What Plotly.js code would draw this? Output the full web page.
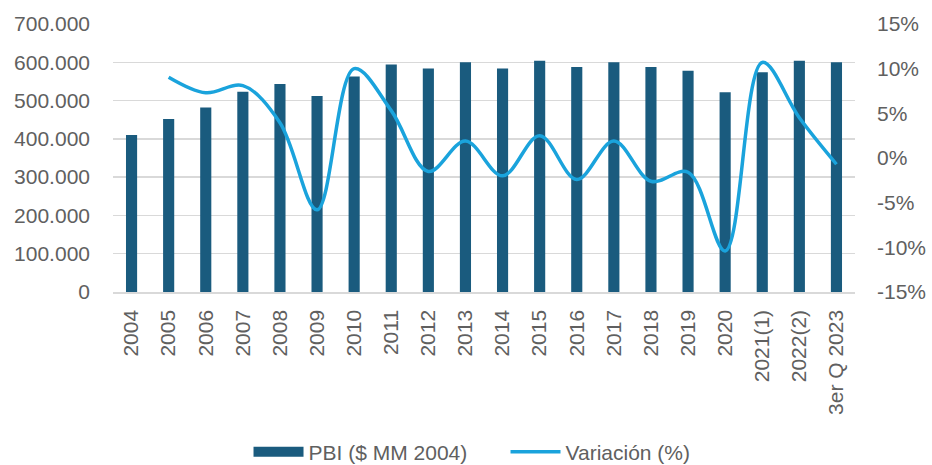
<!DOCTYPE html>
<html>
<head>
<meta charset="utf-8">
<script src="https://cdn.plot.ly/plotly-3.0.1.min.js"></script>
<style>
html,body{margin:0;padding:0;background:#fff;}
#chart{width:932px;height:465px;}
</style>
</head>
<body>
<div id="chart"></div>
<script>
const categories = ["2004","2005","2006","2007","2008","2009","2010","2011","2012","2013","2014","2015","2016","2017","2018","2019","2020","2021(1)","2022(2)","3er Q 2023"];
const pbi = [410000,452000,482000,523000,543000,512000,563000,594000,584000,600000,584000,604000,588000,600000,588000,578000,522000,574000,604000,600000];
const variacionCats = categories.slice(1);
const variacion = [0.0905,0.073,0.081,0.0395,-0.058,0.100,0.053,-0.015,0.019,-0.020,0.025,-0.024,0.019,-0.026,-0.016,-0.104,0.107,0.045,-0.007];
const leftTickVals = [0,100000,200000,300000,400000,500000,600000,700000];
const leftTickText = ["0","100.000","200.000","300.000","400.000","500.000","600.000","700.000"];
const rightTickVals = [-0.15,-0.10,-0.05,0,0.05,0.10,0.15];
const rightTickText = ["-15%","-10%","-5%","0%","5%","10%","15%"];
const seriesNames = ["PBI ($ MM 2004)", "Variación (%)"];

const font = "Liberation Sans, Arial, sans-serif";
const gray = "#606060";
const barColor = "#1a5b7e";
const lineColor = "#1aa3dc";

const traces = [
  {
    type: "bar",
    name: seriesNames[0],
    x: categories,
    y: pbi,
    marker: {color: barColor},
    yaxis: "y",
    showlegend: false
  },
  {
    // legend-only entry giving the bar series a wide rectangular swatch
    type: "scatter",
    mode: "lines",
    name: seriesNames[0],
    x: [null],
    y: [null],
    line: {color: barColor, width: 10},
    yaxis: "y",
    showlegend: true
  },
  {
    type: "scatter",
    mode: "lines",
    name: seriesNames[1],
    x: variacionCats,
    y: variacion,
    line: {color: lineColor, width: 3.5, shape: "spline", smoothing: 1},
    yaxis: "y2"
  }
];

const layout = {
  width: 932,
  height: 465,
  margin: {l: 112.5, r: 76.5, t: 24, b: 173, pad: 0},
  paper_bgcolor: "#ffffff",
  plot_bgcolor: "#ffffff",
  bargap: 0.70,
  showlegend: true,
  font: {family: font, size: 21, color: gray},
  xaxis: {
    type: "category",
    categoryorder: "array",
    categoryarray: categories,
    tickangle: -90,
    showgrid: false,
    showline: true,
    linecolor: "#d9d9d9",
    linewidth: 1.5,
    ticks: "",
    ticklabelstandoff: 8,
    tickfont: {family: font, size: 21, color: gray},
    automargin: false,
    fixedrange: true
  },
  yaxis: {
    range: [0, 700000],
    tickvals: leftTickVals,
    ticktext: leftTickText,
    showgrid: true,
    gridcolor: "#d9d9d9",
    gridwidth: 1.5,
    zeroline: false,
    showline: false,
    ticks: "",
    ticklabelstandoff: 22,
    tickfont: {family: font, size: 21, color: gray},
    automargin: false,
    fixedrange: true
  },
  yaxis2: {
    overlaying: "y",
    side: "right",
    range: [-0.15, 0.15],
    tickvals: rightTickVals,
    ticktext: rightTickText,
    showgrid: false,
    zeroline: false,
    showline: false,
    ticks: "",
    ticklabelstandoff: 21,
    tickfont: {family: font, size: 21, color: gray},
    automargin: false,
    fixedrange: true
  },
  legend: {
    orientation: "h",
    xref: "paper",
    x: 0.529,
    xanchor: "center",
    yref: "container",
    y: 0.028,
    yanchor: "middle",
    itemwidth: 50,
    entrywidth: 192,
    entrywidthmode: "pixels",
    font: {family: font, size: 21, color: gray},
    bgcolor: "rgba(0,0,0,0)"
  }
};

Plotly.newPlot("chart", traces, layout, {displayModeBar: false, staticPlot: true});
</script>
</body>
</html>
